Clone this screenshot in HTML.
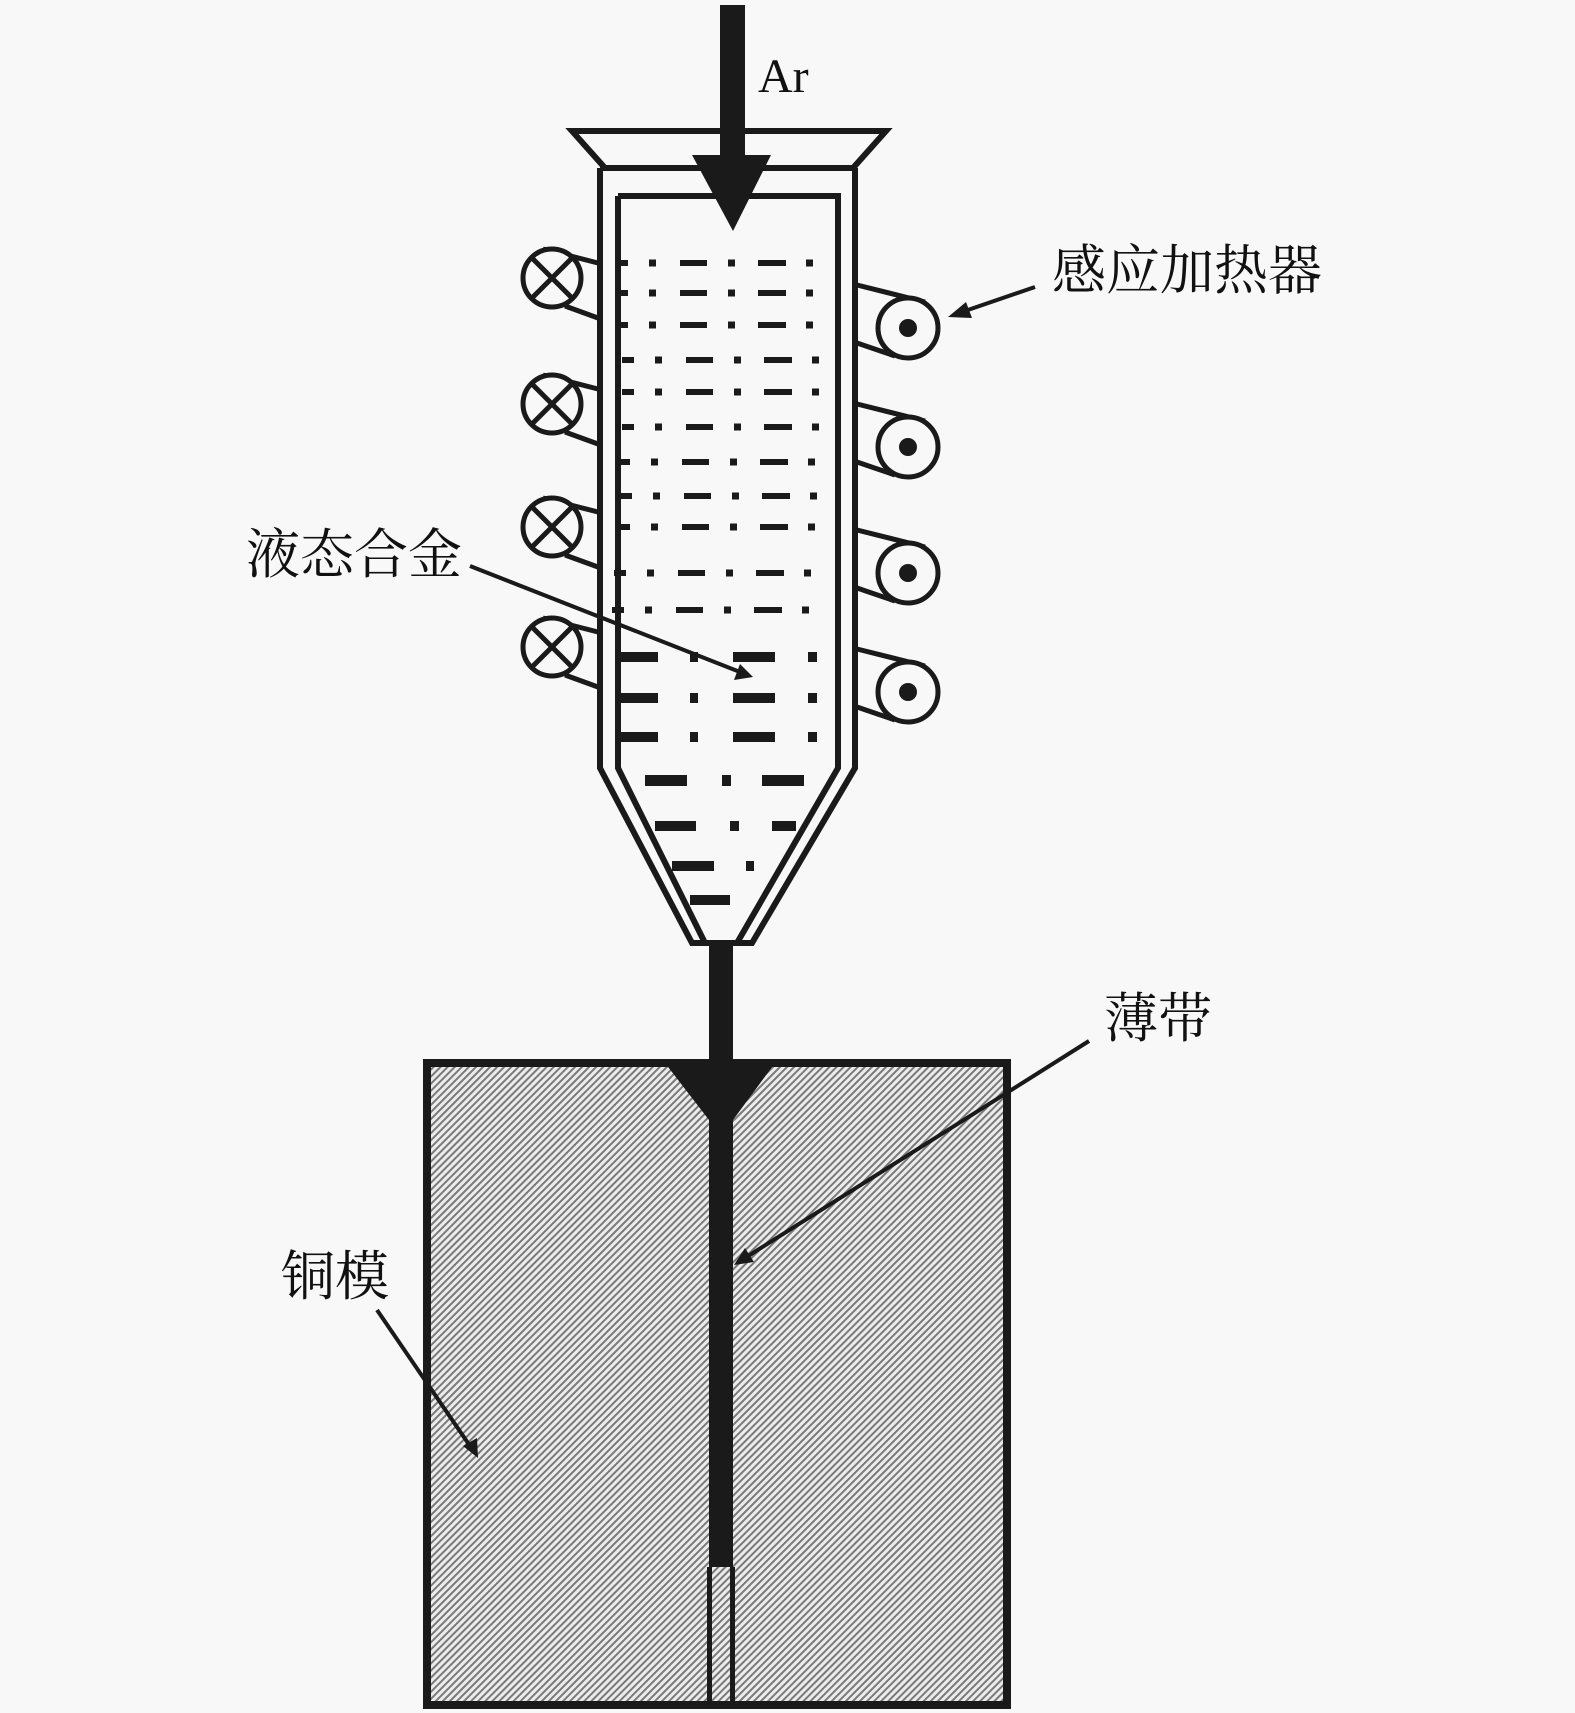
<!DOCTYPE html>
<html><head><meta charset="utf-8"><style>
html,body{margin:0;padding:0;background:#f8f8f8}
svg{display:block}
text{font-family:"Liberation Serif","Noto Serif CJK SC",serif;fill:#111}
</style></head><body>
<svg width="1575" height="1713" viewBox="0 0 1575 1713" xmlns="http://www.w3.org/2000/svg">
<defs>
<pattern id="h" width="5" height="5" patternUnits="userSpaceOnUse" patternTransform="rotate(-45)">
<rect width="5" height="5" fill="#ececec"/>
<rect width="5" height="2" fill="#7a7a7a"/>
</pattern>
<g id="r1" fill="#1a1a1a"><rect x="616" y="-3" width="12" height="6"/><rect x="649" y="-3.5" width="7" height="7"/><rect x="680" y="-3" width="27" height="6"/><rect x="728" y="-3.5" width="7" height="7"/><rect x="758" y="-3" width="28" height="6"/><rect x="806" y="-3.5" width="7" height="7"/></g>
<g id="t1" fill="#1a1a1a"><rect x="620" y="-5" width="38" height="10"/><rect x="690" y="-5" width="8" height="10"/><rect x="733" y="-5" width="42" height="10"/><rect x="808" y="-5" width="9" height="10"/></g>
<g id="lc" stroke="#1a1a1a" stroke-width="5" fill="none">
<line x1="543" y1="-29" x2="598" y2="-15"/>
<line x1="565" y1="28" x2="598" y2="40"/>
<circle cx="552" cy="0" r="29" fill="#f8f8f8"/>
<line x1="533" y1="-19" x2="571" y2="19"/>
<line x1="533" y1="19" x2="571" y2="-19"/>
</g>
<g id="rc">
<g stroke="#1a1a1a" stroke-width="5" fill="none">
<line x1="857" y1="-43" x2="925" y2="-26"/>
<line x1="857" y1="15" x2="895" y2="28"/>
<circle cx="908" cy="0" r="30" fill="#f8f8f8"/>
</g>
<circle cx="908" cy="0" r="9" fill="#1a1a1a"/>
</g>
</defs>
<rect width="1575" height="1713" fill="#f8f8f8"/>

<!-- mould -->
<rect x="427" y="1063" width="580" height="642" fill="url(#h)" stroke="#1a1a1a" stroke-width="8"/>
<polygon points="665,1063 775,1063 733,1120 709,1120" fill="#1a1a1a"/>
<rect x="709" y="1100" width="24" height="467" fill="#1a1a1a"/>
<rect x="707" y="1567" width="5" height="136" fill="#1a1a1a"/>
<rect x="730" y="1567" width="5" height="136" fill="#1a1a1a"/>
<rect x="709" y="940" width="24" height="125" fill="#1a1a1a"/>

<!-- crucible -->
<g fill="none" stroke="#1a1a1a" stroke-width="6" stroke-linejoin="miter">
<polygon points="572,131 886,131 853,168 605,168"/>
<path d="M600,168 V768 L692,943 H752 L855,768 V168"/>
<path d="M618,196 H838 V768 L737,943 M705,943 L618,768 V196"/>
</g>
<rect x="600" y="167" width="255" height="4" fill="#1a1a1a"/>

<!-- Ar arrow -->
<rect x="720" y="5" width="25" height="160" fill="#1a1a1a"/>
<polygon points="692,155 771,155 733,231" fill="#1a1a1a"/>
<text x="758" y="92" font-size="48">Ar</text>

<use href="#r1" y="263"/><use href="#r1" y="293"/><use href="#r1" y="325"/>
<use href="#r1" x="6" y="360"/><use href="#r1" x="6" y="392"/><use href="#r1" x="6" y="427"/>
<use href="#r1" x="2" y="462"/><use href="#r1" x="4" y="496"/><use href="#r1" x="2" y="527"/>
<use href="#r1" x="-2" y="573"/><use href="#r1" x="-4" y="610"/>

<use href="#t1" y="657"/><use href="#t1" y="698"/><use href="#t1" y="737"/>
<g fill="#1a1a1a">
<rect x="645" y="775" width="42" height="11"/><rect x="722" y="775" width="9" height="11"/><rect x="762" y="775" width="42" height="11"/>
<rect x="655" y="821" width="41" height="10"/><rect x="730" y="821" width="9" height="10"/><rect x="772" y="821" width="24" height="10"/>
<rect x="672" y="861" width="42" height="10"/><rect x="746" y="861" width="8" height="10"/>
<rect x="690" y="895" width="40" height="10"/>
</g>

<use href="#lc" y="278"/>
<use href="#lc" y="404"/>
<use href="#lc" y="527"/>
<use href="#lc" y="647"/>

<use href="#rc" y="328"/>
<use href="#rc" y="447"/>
<use href="#rc" y="573"/>
<use href="#rc" y="692"/>

<!-- leader arrows -->
<g stroke="#1a1a1a" stroke-width="4">
<line x1="1035" y1="287" x2="962" y2="312"/>
<line x1="470" y1="566" x2="740" y2="672"/>
<line x1="1089" y1="1041" x2="745" y2="1258"/>
<line x1="377" y1="1310" x2="470" y2="1446"/>
</g>
<g fill="#1a1a1a">
<polygon points="948,317 966,302 972,318"/>
<polygon points="753,677 734,680 740,664"/>
<polygon points="734,1265 745,1248 754,1262"/>
<polygon points="478,1458 463,1446 477,1438"/>
</g>

<text x="1052" y="289" font-size="54" font-family="Noto Serif CJK SC,serif">感应加热器</text>
<text x="246" y="573" font-size="54" font-family="Noto Serif CJK SC,serif">液态合金</text>
<text x="1104" y="1037" font-size="54" font-family="Noto Serif CJK SC,serif">薄带</text>
<text x="281" y="1295" font-size="54" font-family="Noto Serif CJK SC,serif">铜模</text>
</svg>
</body></html>
